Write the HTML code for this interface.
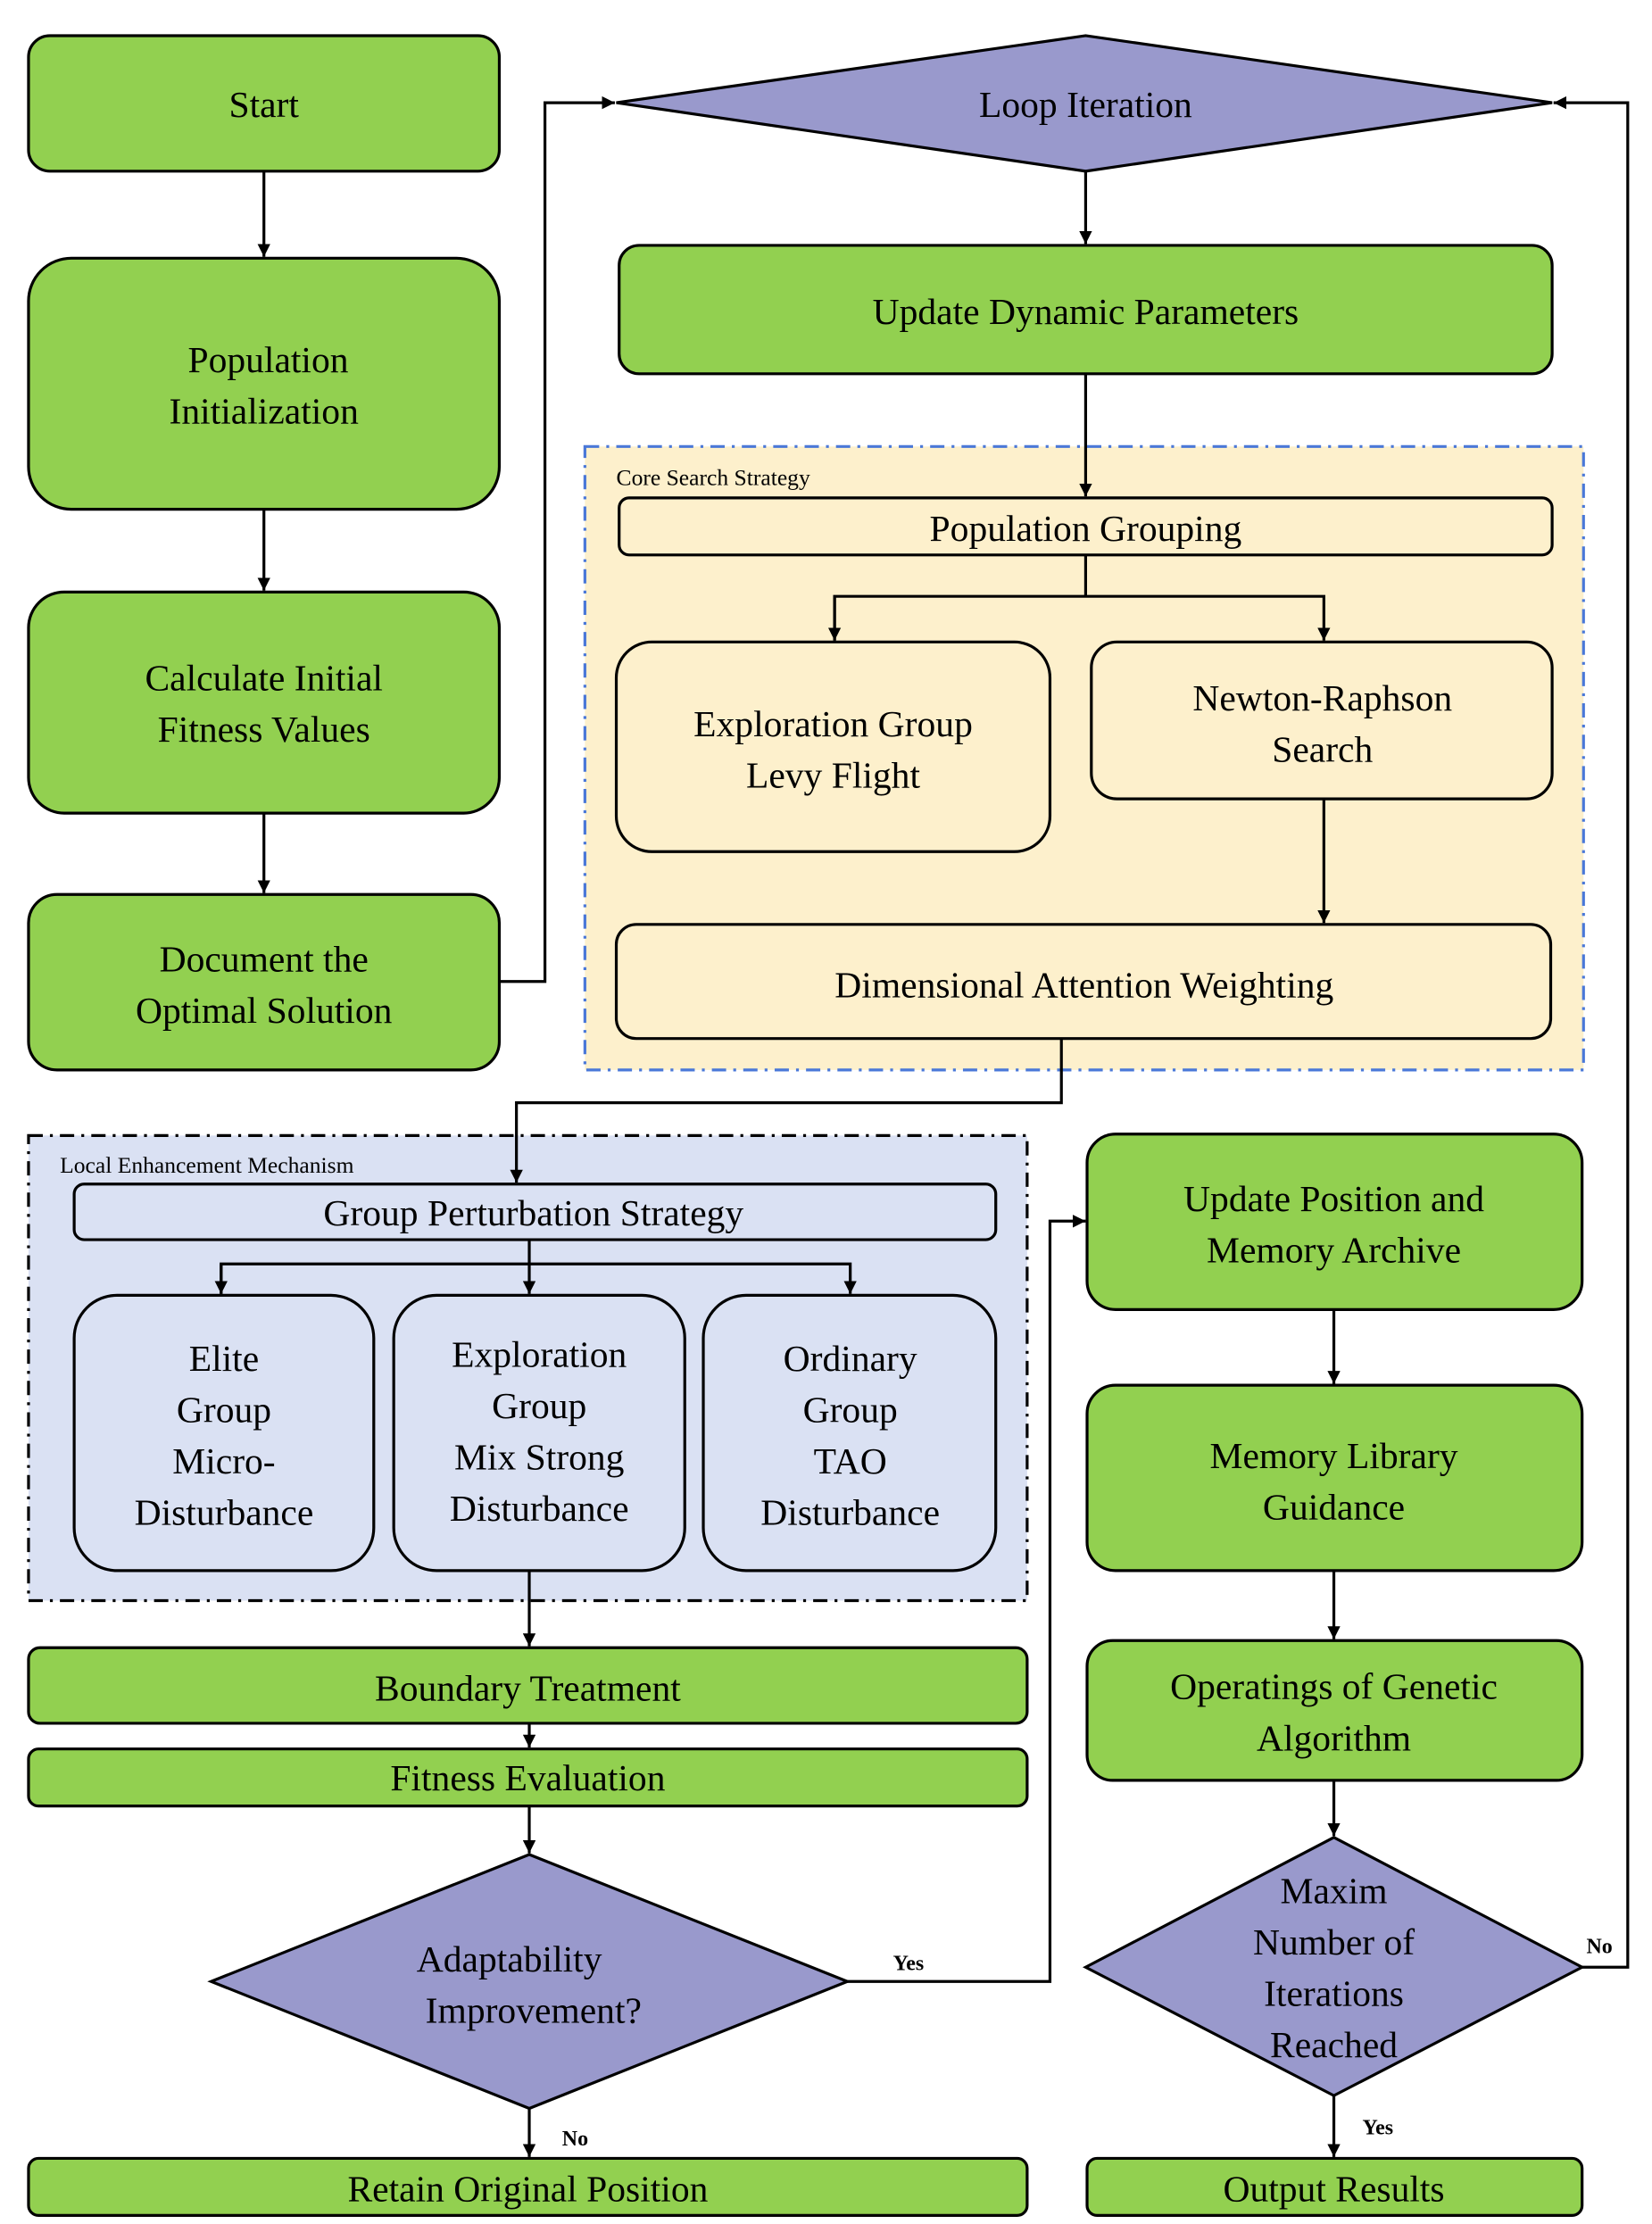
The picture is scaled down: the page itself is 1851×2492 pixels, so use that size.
<!DOCTYPE html>
<html><head><meta charset="utf-8"><style>
html,body{margin:0;padding:0;background:#fff;}
svg{display:block;}
svg text{font-family:"Liberation Serif","Times New Roman","DejaVu Serif",serif !important;fill:#000;}
</style></head><body>
<svg width="1851" height="2492" viewBox="0 0 1158 1559" xmlns="http://www.w3.org/2000/svg" font-family="Liberation Serif, Times New Roman, serif">
<defs>
<marker id="a" viewBox="0 0 10 10" refX="10" refY="5" markerWidth="9" markerHeight="9" markerUnits="userSpaceOnUse" orient="auto"><path d="M0,0 L10,5 L0,10 z" fill="#000"/></marker>
</defs>
<rect x="0" y="0" width="1158" height="1559" fill="#fff"/>
<rect x="410" y="313" width="700" height="437" fill="#fdf0cc" stroke="#4a78d8" stroke-width="2" stroke-dasharray="10,5,2,5"/>
<rect x="20" y="796" width="700" height="326" fill="#dae1f3" stroke="#000" stroke-width="2" stroke-dasharray="10,5,2,5"/>
<g stroke="#000" stroke-width="2">
<rect x="20" y="25" width="330" height="95" rx="15" fill="#92d050"/>
<rect x="20" y="181" width="330" height="176" rx="30" fill="#92d050"/>
<rect x="20" y="415" width="330" height="155" rx="25" fill="#92d050"/>
<rect x="20" y="627" width="330" height="123" rx="20" fill="#92d050"/>
<polygon points="432,72 761,25 1088,72 761,120" fill="#9999cc"/>
<rect x="434" y="172" width="654" height="90" rx="14" fill="#92d050"/>
<rect x="434" y="349" width="654" height="40" rx="7" fill="#fdf0cc"/>
<rect x="432" y="450" width="304" height="147" rx="25" fill="#fdf0cc"/>
<rect x="765" y="450" width="323" height="110" rx="18" fill="#fdf0cc"/>
<rect x="432" y="648" width="655" height="80" rx="14" fill="#fdf0cc"/>
<rect x="52" y="830" width="646" height="39" rx="7" fill="#dae1f3"/>
<rect x="52" y="908" width="210" height="193" rx="30" fill="#dae1f3"/>
<rect x="276" y="908" width="204" height="193" rx="30" fill="#dae1f3"/>
<rect x="493" y="908" width="205" height="193" rx="30" fill="#dae1f3"/>
<rect x="20" y="1155" width="700" height="53" rx="8" fill="#92d050"/>
<rect x="20" y="1226" width="700" height="40" rx="7" fill="#92d050"/>
<polygon points="148,1389 371,1300 594,1389 371,1478" fill="#9999cc"/>
<rect x="20" y="1513" width="700" height="40" rx="7" fill="#92d050"/>
<rect x="762" y="795" width="347" height="123" rx="20" fill="#92d050"/>
<rect x="762" y="971" width="347" height="130" rx="20" fill="#92d050"/>
<rect x="762" y="1150" width="347" height="98" rx="18" fill="#92d050"/>
<polygon points="761,1379 935,1288 1109,1379 935,1469" fill="#9999cc"/>
<rect x="762" y="1513" width="347" height="40" rx="7" fill="#92d050"/>
</g>
<g stroke="#000" stroke-width="2" fill="none">
<line x1="185" y1="120" x2="185" y2="180" marker-end="url(#a)"/>
<line x1="185" y1="357" x2="185" y2="414" marker-end="url(#a)"/>
<line x1="185" y1="570" x2="185" y2="626" marker-end="url(#a)"/>
<polyline points="350,688 382,688 382,72 431,72" marker-end="url(#a)"/>
<line x1="761" y1="120" x2="761" y2="171" marker-end="url(#a)"/>
<line x1="761" y1="262" x2="761" y2="348" marker-end="url(#a)"/>
<polyline points="761,389 761,418"/>
<polyline points="585,449 585,418 928,418 928,449" marker-end="url(#a)"/>
<line x1="585" y1="418" x2="585" y2="449" marker-end="url(#a)"/>
<line x1="928" y1="560" x2="928" y2="647" marker-end="url(#a)"/>
<polyline points="744,728 744,773 362,773 362,829" marker-end="url(#a)"/>
<line x1="371" y1="869" x2="371" y2="907" marker-end="url(#a)"/>
<polyline points="155,907 155,886 596,886 596,907" marker-end="url(#a)"/>
<line x1="155" y1="886" x2="155" y2="907" marker-end="url(#a)"/>
<line x1="371" y1="1101" x2="371" y2="1154" marker-end="url(#a)"/>
<line x1="371" y1="1208" x2="371" y2="1225" marker-end="url(#a)"/>
<line x1="371" y1="1266" x2="371" y2="1299" marker-end="url(#a)"/>
<polyline points="594,1389 736,1389 736,856 761,856" marker-end="url(#a)"/>
<line x1="371" y1="1478" x2="371" y2="1512" marker-end="url(#a)"/>
<line x1="935" y1="918" x2="935" y2="970" marker-end="url(#a)"/>
<line x1="935" y1="1101" x2="935" y2="1149" marker-end="url(#a)"/>
<line x1="935" y1="1248" x2="935" y2="1287" marker-end="url(#a)"/>
<polyline points="1109,1379 1141,1379 1141,72 1089,72" marker-end="url(#a)"/>
<line x1="935" y1="1469" x2="935" y2="1512" marker-end="url(#a)"/>
</g>
<g font-size="26" text-anchor="middle">
<text x="185" y="82">Start</text>
<text x="188" y="261">Population</text>
<text x="185" y="297">Initialization</text>
<text x="185" y="484">Calculate Initial</text>
<text x="185" y="520">Fitness Values</text>
<text x="185" y="681">Document the</text>
<text x="185" y="717">Optimal Solution</text>
<text x="761" y="82">Loop Iteration</text>
<text x="761" y="227">Update Dynamic Parameters</text>
<text x="761" y="379">Population Grouping</text>
<text x="584" y="516">Exploration Group</text>
<text x="584" y="552">Levy Flight</text>
<text x="927" y="498">Newton-Raphson</text>
<text x="927" y="534">Search</text>
<text x="760" y="699">Dimensional Attention Weighting</text>
<text x="374" y="859">Group Perturbation Strategy</text>
<text x="157" y="961">Elite</text>
<text x="157" y="997">Group</text>
<text x="157" y="1033">Micro-</text>
<text x="157" y="1069">Disturbance</text>
<text x="378" y="958">Exploration</text>
<text x="378" y="994">Group</text>
<text x="378" y="1030">Mix Strong</text>
<text x="378" y="1066">Disturbance</text>
<text x="596" y="961">Ordinary</text>
<text x="596" y="997">Group</text>
<text x="596" y="1033">TAO</text>
<text x="596" y="1069">Disturbance</text>
<text x="370" y="1192">Boundary Treatment</text>
<text x="370" y="1255">Fitness Evaluation</text>
<text x="357" y="1382">Adaptability</text>
<text x="374" y="1418">Improvement?</text>
<text x="370" y="1543">Retain Original Position</text>
<text x="935" y="849">Update Position and</text>
<text x="935" y="885">Memory Archive</text>
<text x="935" y="1029">Memory Library</text>
<text x="935" y="1065">Guidance</text>
<text x="935" y="1191">Operatings of Genetic</text>
<text x="935" y="1227">Algorithm</text>
<text x="935" y="1334">Maxim</text>
<text x="935" y="1370">Number of</text>
<text x="935" y="1406">Iterations</text>
<text x="935" y="1442">Reached</text>
<text x="935" y="1543">Output Results</text>
</g>
<g font-size="16">
<text x="432" y="340">Core Search Strategy</text>
<text x="42" y="822">Local Enhancement Mechanism</text>
</g>
<g font-size="15" font-weight="bold">
<text x="626" y="1381">Yes</text>
<text x="394" y="1504">No</text>
<text x="1112" y="1369">No</text>
<text x="955" y="1496">Yes</text>
</g>
</svg>
</body></html>
